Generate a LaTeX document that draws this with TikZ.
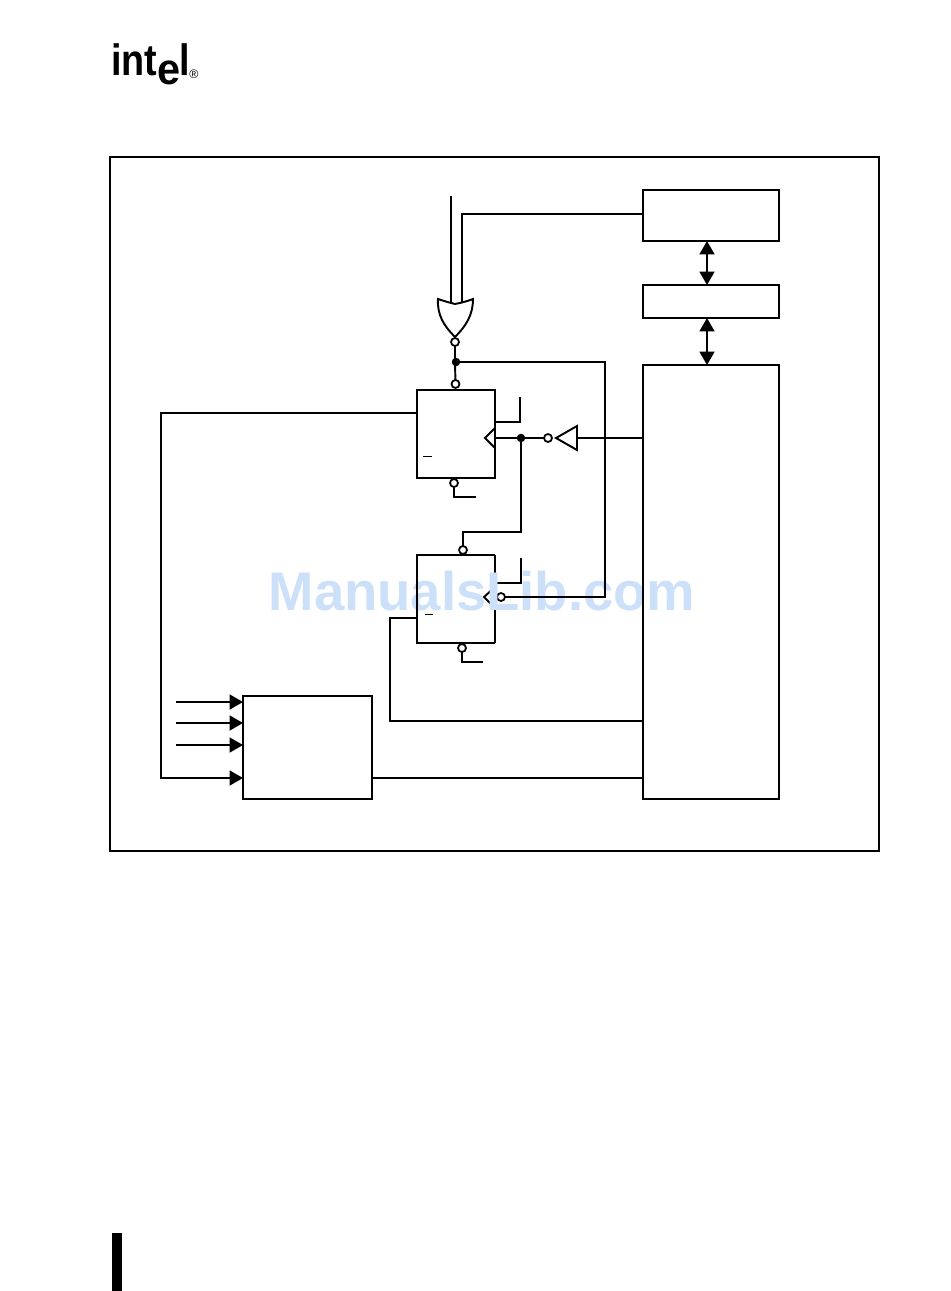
\documentclass[tikz,border=0pt]{standalone}
\usepackage{fontspec}
\setmainfont{Liberation Sans}
\usetikzlibrary{arrows.meta}

\definecolor{wmark}{HTML}{CCE0FA}
\tikzset{
    wire/.style={line width=1.1pt},
    blk/.style={draw,line width=1.1pt,inner sep=0pt,outer sep=0pt},
    bub/.style={circle,draw,fill=white,line width=1pt,inner sep=0pt,outer sep=0pt,minimum size=0.16cm},
    dot/.style={circle,fill=black,inner sep=0pt,outer sep=0pt,minimum size=0.17cm},
    tip/.style={-{Triangle[length=0.27cm,width=0.3cm]}},
    tips/.style={{Triangle[length=0.27cm,width=0.3cm]}-{Triangle[length=0.27cm,width=0.3cm]}},
    logo/.style={font=\bfseries\fontsize{25}{25}\selectfont,inner sep=0pt,anchor=base west,xscale=0.86}
}

\begin{document}
\begin{tikzpicture}[x=0.02cm,y=-0.02cm]
    \useasboundingbox (0,0) rectangle (950,1291);
    % logo and page bar
    \node[logo] (lgint) at (111,76) {int};
    \node[logo,xscale=1.1] (lge) at (157,85) {e};
    \node[logo] (lgl) at (179,76) {l};
    \node[font=\fontsize{7}{7}\selectfont,inner sep=0pt] (lgr) at (194,74) {®};
    \fill (112,1233) rectangle (122,1291);

    % flip-flop B right side lies under the watermark
    \node[inner sep=0pt,outer sep=0pt,minimum width=1.56cm,minimum height=1.76cm] (ffb) at (456,599) {};
    \node[bub] (ffbclk) at (501,597) {};
    \coordinate (sba) at (495,583);
    \coordinate (sbb) at (521,583);
    \coordinate (sbc) at (521,558);
    \draw[wire] (ffb.north east)--(ffb.south east);
    \draw[wire] (sba)--(sbb)--(sbc);
    \draw[wire] (495,587)--(484,597)--(495,608);

    \node[text=wmark,font=\bfseries\fontsize{31}{31}\selectfont,inner sep=0pt] (wm) at (482,591) {ManualsLib.com};

    \draw[wire] (ffb.north east)--(ffb.north west)--(ffb.south west)--(ffb.south east);

    % outer frame
    \node[blk,minimum width=15.38cm,minimum height=13.88cm] (frame) at (494.5,504) {};

    % blocks
    \node[blk,minimum width=2.72cm,minimum height=1.02cm] (rega) at (711,215.5) {};
    \node[blk,minimum width=2.72cm,minimum height=0.66cm] (regb) at (711,301.5) {};
    \node[blk,minimum width=2.72cm,minimum height=8.68cm] (ctrl) at (711,582) {};
    \node[blk,minimum width=2.58cm,minimum height=2.06cm] (mux) at (307.5,747.5) {};
    \node[blk,minimum width=1.56cm,minimum height=1.76cm] (ffa) at (456,434) {};

    % bubbles and dots
    \node[bub] (ora) at (455,342) {};
    \node[dot] (jtop) at (456,362) {};
    \node[bub] (ffaset) at (455.5,384) {};
    \node[bub] (ffaclr) at (454,483) {};
    \node[dot] (jclk) at (521,438) {};
    \node[bub] (invb) at (548,438) {};
    \node[bub] (ffbset) at (463,550) {};
    \node[bub] (ffbclr) at (462,648) {};

    % OR gate
    \coordinate (ina) at (451,196);
    \coordinate (inb) at (462,214);
    \draw[wire] (ina)--(451,302);
    \draw[wire] (rega.west |- inb)--(inb)--(462,302);
    \draw[wire,fill=white] (438,299) .. controls (447,302) and (451,303) .. (455,304)
        .. controls (460,303) and (465,302) .. (473,299)
        .. controls (473,315) and (466,326) .. (455,337)
        .. controls (444,326) and (437,315) .. (438,299) -- cycle;
    \draw[wire] (ora)--(ora |- jtop)--(ffaset);

    % clock lines
    \coordinate (cka) at (605,362);
    \coordinate (ckb) at (605,597);
    \draw[wire] (jtop)--(cka)--(ckb)--(ffbclk);
    \draw[wire] (ctrl.west |- invb)--(577,438);
    \draw[wire,fill=white] (577,426)--(556,438)--(577,450)--cycle;
    \draw[wire] (invb)--(jclk)--(ffa.east |- jclk);
    \draw[wire] (495,428)--(485,438)--(495,448);
    \coordinate (cba) at (521,532);
    \coordinate (cbb) at (463,532);
    \draw[wire] (jclk)--(cba)--(cbb)--(ffbset);

    % stubs
    \coordinate (saa) at (495,422);
    \coordinate (sab) at (520,422);
    \coordinate (sac) at (520,397);
    \draw[wire] (saa)--(sab)--(sac);
    \coordinate (caa) at (454,497);
    \coordinate (cab) at (476,497);
    \draw[wire] (ffaclr)--(caa)--(cab);
    \coordinate (cca) at (462,662);
    \coordinate (ccb) at (483,662);
    \draw[wire] (ffbclr)--(cca)--(ccb);
    \draw[line width=0.4pt] (423,456)--(432,456);
    \draw[line width=0.4pt] (425,614)--(433,614);

    % long wires on the left
    \coordinate (lfa) at (161,413);
    \coordinate (lfb) at (161,778);
    \draw[wire,tip] (ffa.west |- lfa)--(lfa)--(lfb)--(mux.west |- lfb);
    \coordinate (lga) at (390,618);
    \coordinate (lgb) at (390,721);
    \draw[wire] (ffb.west |- lga)--(lga)--(lgb)--(ctrl.west |- lgb);
    \draw[wire] (mux.east |- lfb)--(ctrl.west |- lfb);

    % mux inputs
    \foreach \y/\nm in {702/ia,723/ib,745/ic}{
        \coordinate (\nm) at (176,\y);
        \draw[wire,tip] (\nm)--(mux.west |- \nm);
    }

    % bus arrows
    \coordinate (busx) at (707,300);
    \draw[wire,tips] (rega.south -| busx)--(regb.north -| busx);
    \draw[wire,tips] (regb.south -| busx)--(ctrl.north -| busx);
\end{tikzpicture}
\end{document}
